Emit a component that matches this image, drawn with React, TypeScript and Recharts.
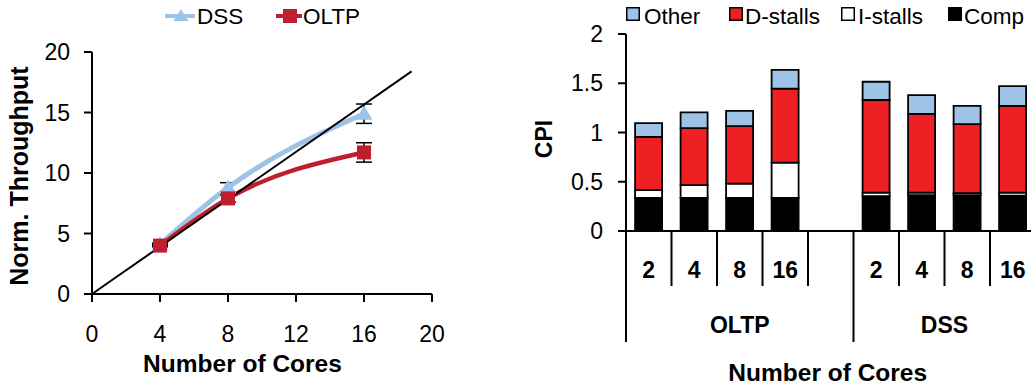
import React from 'react';
import {
  LineChart,
  Line,
  XAxis,
  YAxis,
  ErrorBar,
  ReferenceLine,
  Legend,
  BarChart,
  Bar,
  Label,
} from 'recharts';

const FONT = '"Liberation Sans", Arial, Helvetica, sans-serif';

// ---- Throughput scaling (left panel) ----
const coreCounts = [4, 8, 16];
const dssThroughput = [4.1, 8.8, 14.9];
const dssError = [0.1, 0.4, 0.8];
const oltpThroughput = [4.0, 7.9, 11.7];
const oltpError = [0.1, 0.3, 0.8];
const idealStart = { x: 0, y: 0 };
const idealEnd = { x: 18.8, y: 18.4 };
const coreTicks = [0, 4, 8, 12, 16, 20];
const throughputTicks = [0, 5, 10, 15, 20];

// ---- CPI breakdown (right panel) ----
const cpiLabels = ['2', '4', '8', '16', '', '2', '4', '8', '16'];
const cpiComp = [0.335, 0.335, 0.335, 0.335, null, 0.355, 0.365, 0.365, 0.36];
const cpiIStalls = [0.08, 0.13, 0.145, 0.36, null, 0.035, 0.025, 0.02, 0.03];
const cpiDStalls = [0.54, 0.58, 0.585, 0.75, null, 0.94, 0.8, 0.7, 0.88];
const cpiOther = [0.14, 0.16, 0.155, 0.19, null, 0.185, 0.19, 0.185, 0.2];
const cpiGroups = [
  { name: 'OLTP', first: 0, last: 4 },
  { name: 'DSS', first: 5, last: 8 },
];
const cpiTicks = [0, 0.5, 1, 1.5, 2];

const DSS_COLOR = '#9DC3E6';
const OLTP_COLOR = '#BE1E2D';
const OTHER_COLOR = '#9DC3E6';
const DSTALL_COLOR = '#EE2024';
const ISTALL_COLOR = '#FFFFFF';
const COMP_COLOR = '#000000';

const throughputData = coreCounts.map((c, i) => ({
  cores: c,
  dss: dssThroughput[i],
  dssErr: dssError[i],
  oltp: oltpThroughput[i],
  oltpErr: oltpError[i],
}));

const cpiData = cpiLabels.map((label, i) => ({
  label,
  comp: cpiComp[i],
  istall: cpiIStalls[i],
  dstall: cpiDStalls[i],
  other: cpiOther[i],
}));

// layout of the CPI chart
const BAR_W = 520;
const BAR_H = 387;
const BAR_MARGIN = { top: 34, right: 4.5, bottom: 36, left: 46 };
const BAR_YAXIS_W = 60;
const SLOT =
  (BAR_W - BAR_MARGIN.left - BAR_MARGIN.right - BAR_YAXIS_W) / cpiLabels.length;

const TriangleDot = (p: any) => {
  const { cx, cy, index } = p;
  if (cx == null || cy == null) return <g key={`dss-dot-${index}`} />;
  return (
    <polygon
      key={`dss-dot-${index}`}
      points={`${cx},${cy - 8} ${cx + 8.5},${cy + 6} ${cx - 8.5},${cy + 6}`}
      fill={DSS_COLOR}
    />
  );
};

const SquareDot = (p: any) => {
  const { cx, cy, index } = p;
  if (cx == null || cy == null) return <g key={`oltp-dot-${index}`} />;
  return (
    <rect
      key={`oltp-dot-${index}`}
      x={cx - 7}
      y={cy - 7}
      width={14}
      height={14}
      fill={OLTP_COLOR}
    />
  );
};

const ThroughputLegend = () => (
  <svg width={450} height={34} style={{ display: 'block' }}>
    <line x1={165} x2={195} y1={16} y2={16} stroke={DSS_COLOR} strokeWidth={4} />
    <polygon points="181,9 188.5,21 173.5,21" fill={DSS_COLOR} />
    <text x={197} y={23.5} fontSize={22.5} fontFamily={FONT} fill="#000">
      DSS
    </text>
    <line x1={276} x2={302} y1={16} y2={16} stroke={OLTP_COLOR} strokeWidth={4} />
    <rect x={283} y={9} width={14} height={14} fill={OLTP_COLOR} />
    <text x={303} y={23.5} fontSize={22.5} fontFamily={FONT} fill="#000">
      OLTP
    </text>
  </svg>
);

const cpiLegendItems = [
  { name: 'Other', color: OTHER_COLOR, box: 106, text: 124 },
  { name: 'D-stalls', color: DSTALL_COLOR, box: 209, text: 225 },
  { name: 'I-stalls', color: ISTALL_COLOR, box: 321, text: 338 },
  { name: 'Comp', color: COMP_COLOR, box: 428, text: 444 },
];

const CpiLegend = () => (
  <svg width={BAR_W} height={34} style={{ display: 'block' }}>
    {cpiLegendItems.map((it) => (
      <g key={it.name}>
        <rect
          x={it.box + 0.75}
          y={7.75}
          width={12.5}
          height={12.5}
          fill={it.color}
          stroke="#000"
          strokeWidth={1.5}
        />
        <text x={it.text} y={24} fontSize={22.5} fontFamily={FONT} fill="#000">
          {it.name}
        </text>
      </g>
    ))}
  </svg>
);

const CategoryTick = (props: any) => {
  const { x, y, payload } = props;
  const i: number = payload?.index ?? props.index ?? 0;
  const half = SLOT / 2;
  const groupStart = cpiGroups.some((g) => g.first === i);
  const lineLen = groupStart ? 111 : 55;
  const group = cpiGroups.find((g) => g.first === i);
  const isLast = i === cpiLabels.length - 1;
  return (
    <g>
      <line x1={x - half} x2={x - half} y1={y} y2={y + lineLen} stroke="#000" strokeWidth={2} />
      {isLast && (
        <line x1={x + half} x2={x + half} y1={y} y2={y + 55} stroke="#000" strokeWidth={2} />
      )}
      <text
        x={x}
        y={y + 47}
        textAnchor="middle"
        fontSize={23}
        fontWeight="bold"
        fontFamily={FONT}
        fill="#000"
      >
        {payload?.value}
      </text>
      {group && (
        <text
          x={x - half + ((group.last - group.first + 1) * SLOT) / 2}
          y={y + 102}
          textAnchor="middle"
          fontSize={23}
          fontWeight="bold"
          fontFamily={FONT}
          fill="#000"
        >
          {group.name}
        </text>
      )}
    </g>
  );
};

const axisLine = { stroke: '#000', strokeWidth: 2 };
const tickStyle = { fill: '#000', fontSize: 23, fontFamily: FONT };

export default function App() {
  return (
    <div
      style={{
        position: 'absolute',
        left: 0,
        top: 0,
        width: 1031,
        height: 387,
        overflow: 'hidden',
        background: '#fff',
        fontFamily: FONT,
      }}
    >
      <div style={{ position: 'absolute', left: 0, top: 0 }}>
        <LineChart
          width={450}
          height={387}
          data={throughputData}
          margin={{ top: 52, right: 18, bottom: 33, left: 32 }}
        >
          <Legend
            layout="horizontal"
            verticalAlign="middle"
            align="center"
            wrapperStyle={{ top: 0, left: 0, width: 450, height: 34 }}
            content={() => <ThroughputLegend />}
          />
          <XAxis
            type="number"
            dataKey="cores"
            domain={[0, 20]}
            ticks={coreTicks}
            interval={0}
            height={60}
            tickSize={8}
            tickMargin={24}
            axisLine={axisLine}
            tickLine={axisLine}
            tick={tickStyle}
          >
            <Label
              content={(p: any) => {
                const vb = p.viewBox || {};
                return (
                  <text
                    x={vb.x + vb.width / 2 - 19.5}
                    y={vb.y + 78}
                    textAnchor="middle"
                    fontSize={24.5}
                    fontWeight="bold"
                    fontFamily={FONT}
                    fill="#000"
                  >
                    Number of Cores
                  </text>
                );
              }}
            />
          </XAxis>
          <YAxis
            type="number"
            domain={[0, 20]}
            ticks={throughputTicks}
            interval={0}
            width={60}
            tickSize={8}
            tickMargin={14}
            axisLine={axisLine}
            tickLine={axisLine}
            tick={tickStyle}
          >
            <Label
              content={(p: any) => {
                const vb = p.viewBox || {};
                const cx = vb.x - 4;
                const cy = vb.y + vb.height / 2 + 3;
                return (
                  <text
                    x={cx}
                    y={cy}
                    transform={`rotate(-90 ${cx} ${cy})`}
                    textAnchor="middle"
                    fontSize={25}
                    fontWeight="bold"
                    fontFamily={FONT}
                    fill="#000"
                  >
                    Norm. Throughput
                  </text>
                );
              }}
            />
          </YAxis>
          <Line
            type="monotone"
            dataKey="dss"
            name="DSS"
            stroke={DSS_COLOR}
            strokeWidth={5}
            dot={TriangleDot}
            activeDot={false}
            isAnimationActive={false}
          >
            <ErrorBar dataKey="dssErr" direction="y" width={8} stroke="#000" strokeWidth={1.5} />
          </Line>
          <Line
            type="monotone"
            dataKey="oltp"
            name="OLTP"
            stroke={OLTP_COLOR}
            strokeWidth={4.5}
            dot={SquareDot}
            activeDot={false}
            isAnimationActive={false}
          >
            <ErrorBar dataKey="oltpErr" direction="y" width={8} stroke="#000" strokeWidth={1.5} />
          </Line>
          <ReferenceLine
            segment={[idealStart, idealEnd]}
            stroke="#000"
            strokeWidth={2}
            ifOverflow="visible"
          />
        </LineChart>
      </div>

      <div style={{ position: 'absolute', left: 520, top: 0 }}>
        <BarChart
          width={BAR_W}
          height={BAR_H}
          data={cpiData}
          margin={BAR_MARGIN}
          barCategoryGap="20%"
        >
          <Legend
            layout="horizontal"
            verticalAlign="middle"
            align="center"
            wrapperStyle={{ top: 0, left: 0, width: BAR_W, height: 34 }}
            content={() => <CpiLegend />}
          />
          <XAxis
            dataKey="label"
            type="category"
            interval={0}
            height={120}
            tickSize={0}
            tickMargin={0}
            axisLine={axisLine}
            tickLine={false}
            tick={<CategoryTick />}
          >
            <Label
              content={(p: any) => {
                const vb = p.viewBox || {};
                return (
                  <text
                    x={vb.x + vb.width / 2 - 3}
                    y={vb.y + 150}
                    textAnchor="middle"
                    fontSize={24.5}
                    fontWeight="bold"
                    fontFamily={FONT}
                    fill="#000"
                  >
                    Number of Cores
                  </text>
                );
              }}
            />
          </XAxis>
          <YAxis
            type="number"
            domain={[0, 2]}
            ticks={cpiTicks}
            interval={0}
            width={BAR_YAXIS_W}
            tickSize={8}
            tickMargin={15}
            axisLine={axisLine}
            tickLine={axisLine}
            tick={tickStyle}
          >
            <Label
              content={(p: any) => {
                const vb = p.viewBox || {};
                const cx = vb.x - 14;
                const cy = vb.y + vb.height / 2 + 6.5;
                return (
                  <text
                    x={cx}
                    y={cy}
                    transform={`rotate(-90 ${cx} ${cy})`}
                    textAnchor="middle"
                    fontSize={23}
                    fontWeight="bold"
                    fontFamily={FONT}
                    fill="#000"
                  >
                    CPI
                  </text>
                );
              }}
            />
          </YAxis>
          <Bar dataKey="comp" name="Comp" stackId="cpi" fill={COMP_COLOR} stroke="#000" strokeWidth={1.8} isAnimationActive={false} />
          <Bar dataKey="istall" name="I-stalls" stackId="cpi" fill={ISTALL_COLOR} stroke="#000" strokeWidth={1.8} isAnimationActive={false} />
          <Bar dataKey="dstall" name="D-stalls" stackId="cpi" fill={DSTALL_COLOR} stroke="#000" strokeWidth={1.8} isAnimationActive={false} />
          <Bar dataKey="other" name="Other" stackId="cpi" fill={OTHER_COLOR} stroke="#000" strokeWidth={1.8} isAnimationActive={false} />
        </BarChart>
      </div>
    </div>
  );
}
